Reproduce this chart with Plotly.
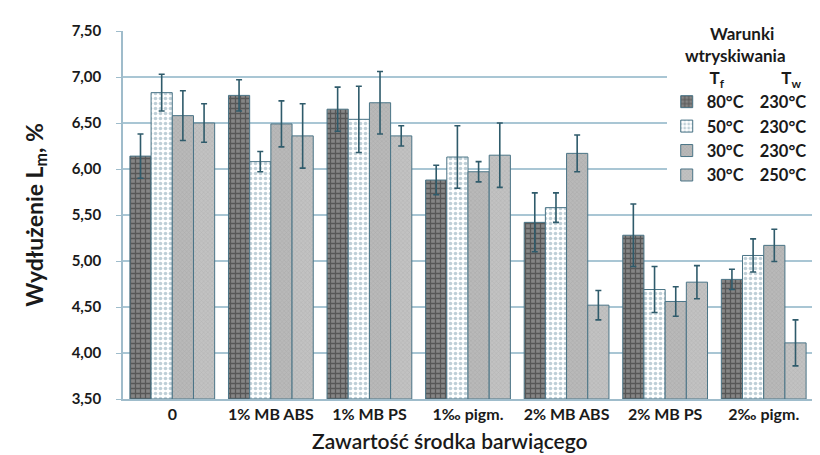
import plotly.graph_objects as go

categories = ["0", "1% MB ABS", "1% MB PS", "1‰ pigm.", "2% MB ABS", "2% MB PS", "2‰ pigm."]
series_names = ["80°C\u00a0\u00a0\u00a0\u00a0230°C", "50°C\u00a0\u00a0\u00a0\u00a0230°C", "30°C\u00a0\u00a0\u00a0\u00a0230°C", "30°C\u00a0\u00a0\u00a0\u00a0250°C"]

s1_vals = [6.14, 6.80, 6.65, 5.88, 5.42, 5.28, 4.80]
s1_err = [0.24, 0.17, 0.24, 0.16, 0.32, 0.34, 0.11]
s2_vals = [6.83, 6.08, 6.54, 6.13, 5.58, 4.69, 5.06]
s2_err = [0.20, 0.11, 0.36, 0.34, 0.16, 0.25, 0.18]
s3_vals = [6.58, 6.49, 6.72, 5.97, 6.17, 4.56, 5.17]
s3_err = [0.27, 0.25, 0.34, 0.11, 0.20, 0.16, 0.175]
s4_vals = [6.50, 6.36, 6.36, 6.15, 4.52, 4.77, 4.11]
s4_err = [0.21, 0.35, 0.11, 0.35, 0.16, 0.18, 0.25]

y_ticks = [3.5, 4.0, 4.5, 5.0, 5.5, 6.0, 6.5, 7.0, 7.5]

FONT = "Lato"
outline = "#4a7486"
err_col = "#2f5b6b"
NB = "\u00a0"

styles = [
    dict(color="#858585", pattern=dict(shape="+", fgcolor="#2a2a2a", size=5, solidity=0.45)),
    dict(color="#ffffff", pattern=dict(shape=".", fgcolor="#7f9faf", size=5, solidity=0.4)),
    dict(color="#b9b9b9", pattern=dict(shape="x", fgcolor="#9a9a9a", size=3, solidity=0.3)),
    dict(color="#c2c2c2", pattern=dict(shape="x", fgcolor="#a3a3a3", size=3, solidity=0.3)),
]

fig = go.Figure()
for name, vals, errs, st in zip(series_names,
                                [s1_vals, s2_vals, s3_vals, s4_vals],
                                [s1_err, s2_err, s3_err, s4_err],
                                styles):
    fig.add_trace(go.Bar(
        x=categories, y=[v - 3.5 for v in vals], base=3.5,
        name=name,
        marker=dict(color=st["color"], pattern=st["pattern"],
                    line=dict(color=outline, width=1)),
        error_y=dict(type="data", array=errs, visible=True,
                     color=err_col, thickness=1.6, width=3),
    ))

legend_title = ("<b>" + NB * 10 + "Warunki<br>" + NB * 4 + "wtryskiwania<br>" + NB * 10 + "T<sub>f</sub>"
                + NB * 14 + "T<sub>w</sub></b>")

fig.update_layout(
    width=820, height=455,
    margin=dict(l=115, r=15, t=23, b=64, autoexpand=False),
    paper_bgcolor="white", plot_bgcolor="white",
    barmode="group", bargap=0.14, bargroupgap=0,
    separators=", ",
    font=dict(family=FONT, color="#1a1a1a"),
    showlegend=True,
    legend=dict(
        x=0.788, xanchor="left", y=1.035, yanchor="top",
        bgcolor="white", borderwidth=0,
        font=dict(size=16.5, family=FONT, color="#1a1a1a", weight="bold"),
        title=dict(text=legend_title, font=dict(size=17, family=FONT)),
        itemwidth=30, tracegroupgap=0,
    ),
    xaxis=dict(
        showline=True, linecolor="#9fbccb", linewidth=1.5,
        tickfont=dict(size=16, family=FONT, weight="bold"),
        showgrid=False, ticks="",
    ),
    yaxis=dict(
        range=[3.5, 7.5], tickvals=y_ticks, tickformat=".2f",
        showline=True, linecolor="#9fbccb", linewidth=1.5,
        ticks="outside", ticklen=5, tickcolor="#9fbccb",
        showgrid=True, gridcolor="#a9c6d4", gridwidth=1.5,
        tickfont=dict(size=15, family=FONT, weight="bold"),
        ticklabelstandoff=12,
        title=dict(text="<b>Wydłużenie L<sub>m</sub>, %</b>", font=dict(size=23, family=FONT), standoff=22),
        zeroline=False,
    ),
    annotations=[dict(
        text="Zawartość środka barwiącego", xref="paper", yref="paper",
        x=0.474, y=-0.113, xanchor="center", yanchor="middle", showarrow=False,
        font=dict(size=21, family=FONT, weight=600, color="#1a1a1a"),
    )],
)

fig.write_html("out.html")
